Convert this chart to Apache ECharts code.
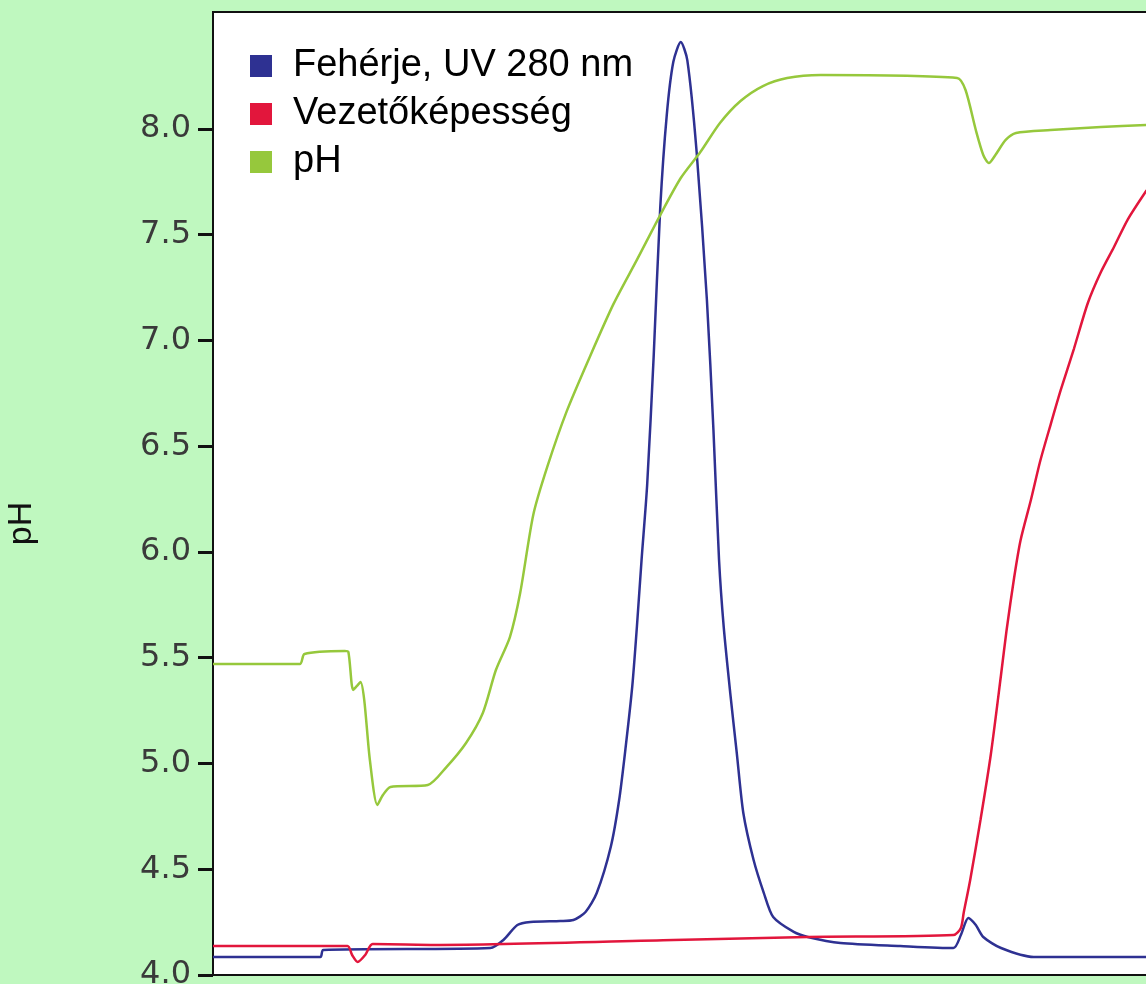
<!DOCTYPE html>
<html>
<head>
<meta charset="utf-8">
<title>pH, UV, vezetőképesség</title>
<script src="https://cdn.jsdelivr.net/npm/echarts@6/dist/echarts.min.js"></script>
<style>
    html, body { margin: 0; padding: 0; background: #bff8bf; }
    #chart { width: 1146px; height: 984px; }
</style>
</head>
<body>
<div id="chart"></div>
<script>
'use strict';
// elúciós térfogat (tetszőleges egység), a mért görbék pontjai
var phX = [0, 9.3, 9.8, 14.1, 14.5, 15.0, 15.4, 15.8, 16.2, 16.8, 17.6, 18.2, 19.0, 23.0, 25.0, 27.1, 28.9, 30.3, 31.8, 32.9, 34.3, 35.8, 37.9, 40.4, 42.9, 45.4, 47.9, 50.1, 52.2, 54.3, 56.5, 58.9, 61.5, 65.1, 79.7, 80.6, 81.7, 82.5, 83.1, 83.8, 84.9, 86.0, 89.7, 95.1, 100];
var phY = [5.47, 5.47, 5.518, 5.532, 5.527, 5.348, 5.366, 5.385, 5.30, 5.017, 4.804, 4.851, 4.889, 4.898, 4.983, 5.097, 5.239, 5.442, 5.598, 5.806, 6.175, 6.402, 6.667, 6.927, 7.173, 7.381, 7.593, 7.768, 7.891, 8.028, 8.132, 8.203, 8.241, 8.255, 8.241, 8.184, 7.995, 7.877, 7.839, 7.877, 7.948, 7.981, 7.995, 8.009, 8.019];

var uvX = [0, 11.5, 11.8, 29.7, 31.1, 32.6, 34.0, 37.2, 38.6, 39.9, 41.1, 42.6, 43.5, 44.2, 44.9, 45.4, 45.9, 46.5, 47.2, 47.9, 48.6, 49.3, 50.1, 50.8, 51.8, 52.9, 53.6, 54.2, 54.7, 55.4, 56.1, 56.8, 57.9, 59.0, 60.0, 62.2, 63.7, 67.2, 73.6, 79.3, 80.1, 80.9, 81.7, 82.5, 84.4, 87.9, 100];
var uvY = [18.7, 18.7, 26.0, 28.0, 36.3, 51.9, 55.0, 56.1, 57.1, 65.4, 85.1, 132.9, 181.7, 236.8, 299.1, 361.4, 430.9, 508.8, 642.8, 796.5, 893.0, 948.1, 968.8, 950.1, 854.6, 700.9, 565.9, 430.9, 361.4, 292.8, 230.5, 168.2, 119.4, 85.1, 60.2, 44.7, 39.5, 33.2, 30.1, 28.0, 41.5, 59.2, 51.9, 39.5, 28.0, 18.7, 18.7];

var condX = [0, 14.4, 14.9, 15.5, 16.3, 17.1, 24.3, 49.3, 63.7, 79.3, 80.1, 80.4, 81.1, 82.2, 83.3, 84.4, 85.0, 85.8, 86.5, 87.6, 88.6, 89.7, 90.8, 92.2, 93.7, 95.1, 96.5, 98.0, 100];
var condY = [3.01, 3.01, 2.08, 1.35, 2.08, 3.22, 3.12, 3.63, 3.95, 4.15, 4.88, 6.44, 9.87, 16.10, 22.85, 31.15, 35.83, 41.22, 45.17, 49.32, 53.37, 57.11, 60.75, 65.00, 69.78, 73.00, 75.60, 78.50, 81.5];

var phTicks = [4.0, 4.5, 5.0, 5.5, 6.0, 6.5, 7.0, 7.5, 8.0];
var seriesNames = ['Fehérje, UV 280 nm', 'Vezetőképesség', 'pH'];
var seriesColors = ['#2e3192', '#e2163c', '#96c83c'];

function pairs(xs, ys) {
    var out = [];
    for (var i = 0; i < xs.length; i++) {
        out.push([xs[i], ys[i]]);
    }
    return out;
}

var myChart = echarts.init(document.getElementById('chart'));

var option = {
    animation: false,
    backgroundColor: '#bff8bf',
    color: seriesColors,
    grid: {
        left: 213,
        top: 12,
        right: -10,
        bottom: 9,
        outerBoundsMode: 'none',
        containLabel: false,
        show: true,
        backgroundColor: '#ffffff',
        borderColor: '#111111',
        borderWidth: 2
    },
    legend: {
        orient: 'vertical',
        left: 245,
        top: 42,
        icon: 'rect',
        itemWidth: 22,
        itemHeight: 22,
        itemGap: 10,
        data: seriesNames,
        textStyle: {
            fontFamily: 'Liberation Sans',
            fontSize: 38,
            color: '#000000',
            padding: [0, 0, 0, 16]
        }
    },
    xAxis: {
        type: 'value',
        min: 0,
        max: 101,
        axisLine: { show: false },
        axisTick: { show: false },
        axisLabel: { show: false },
        splitLine: { show: false }
    },
    yAxis: [{
        type: 'value',
        min: 4,
        max: 8.553,
        interval: 0.5,
        name: 'pH',
        nameLocation: 'middle',
        nameGap: 174,
        nameTextStyle: {
            fontFamily: 'Liberation Sans',
            fontSize: 34,
            color: '#111111',
            padding: [0, 60, 0, 0]
        },
        axisLine: { show: true, lineStyle: { color: '#111111', width: 2 } },
        axisTick: {
            show: true,
            length: 15,
            customValues: phTicks,
            lineStyle: { color: '#111111', width: 3 }
        },
        axisLabel: {
            customValues: phTicks,
            margin: 22,
            fontFamily: 'DejaVu Sans',
            fontSize: 32,
            color: '#3a3a3a',
            formatter: function(v) { return v.toFixed(1); }
        },
        splitLine: { show: false }
    }, {
        type: 'value',
        min: 0,
        max: 1000,
        show: false,
        splitLine: { show: false }
    }, {
        type: 'value',
        min: 0,
        max: 100,
        show: false,
        splitLine: { show: false }
    }],
    series: [{
        name: seriesNames[0],
        type: 'line',
        yAxisIndex: 1,
        data: pairs(uvX, uvY),
        showSymbol: false,
        smooth: 0.25,
        lineStyle: { width: 2.5, color: seriesColors[0] }
    }, {
        name: seriesNames[1],
        type: 'line',
        yAxisIndex: 2,
        data: pairs(condX, condY),
        showSymbol: false,
        smooth: 0.25,
        lineStyle: { width: 2.5, color: seriesColors[1] }
    }, {
        name: seriesNames[2],
        type: 'line',
        yAxisIndex: 0,
        data: pairs(phX, phY),
        showSymbol: false,
        smooth: 0.25,
        lineStyle: { width: 2.5, color: seriesColors[2] }
    }]
};

myChart.setOption(option);
</script>
</body>
</html>
